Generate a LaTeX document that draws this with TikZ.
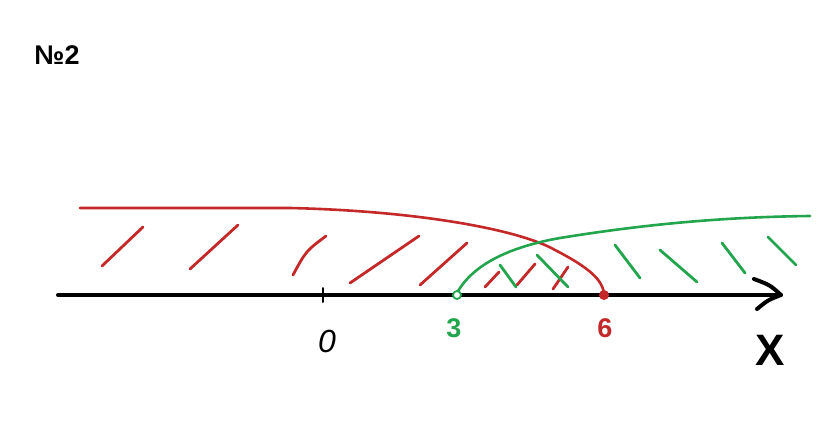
\documentclass[tikz,border=0pt]{standalone}
\usepackage{fontspec}
\setmainfont{Liberation Sans}
\definecolor{pred}{RGB}{196,40,40}
\definecolor{pgreen}{RGB}{34,165,76}
\begin{document}
\begin{tikzpicture}[x=1pt,y=-1pt,line cap=round,line join=round,
  axisline/.style={line width=4pt,black},
  redcurve/.style={line width=2.6pt,pred},
  greencurve/.style={line width=2.6pt,pgreen},
  redhatch/.style={line width=2.8pt,pred},
  greenhatch/.style={line width=2.8pt,pgreen},
  lbl/.style={inner sep=0pt,anchor=center}]
\useasboundingbox[fill=white] (0,0) rectangle (833,423);
% title
\node[lbl,font=\fontsize{27}{30}\selectfont\bfseries] (title) at (57,55) {№2};
% axis
\coordinate (axL) at (58,295);
\coordinate (axR) at (781,295);
\coordinate (arU) at (754,279);
\coordinate (arD) at (757,309);
\draw[axisline] (axL) -- (axR);
\draw[axisline] (arU) .. controls (770,285) .. (axR) .. controls (768,300) .. (arD);
% tick
\coordinate (tkU) at (323,288);
\coordinate (tkD) at (323,302);
\draw[line width=2pt] (tkU) -- (tkD);
% labels
\node[lbl,font=\fontsize{32}{36}\selectfont\itshape] (zero) at (327,341) {0};
\node[lbl,font=\fontsize{27}{30}\selectfont\bfseries,text=pgreen] (three) at (454,328) {3};
\node[lbl,font=\fontsize{27}{30}\selectfont\bfseries,text=pred] (six) at (605,328) {6};
\node[lbl,font=\fontsize{44}{48}\selectfont\bfseries] (xlab) at (770,350) {X};
% red curve
\coordinate (rS) at (80,208);
\coordinate (rE) at (604,293);
\draw[redcurve] (rS) -- (290,208) .. controls (420,211) and (520,230) .. (555,250)
  .. controls (590,268) and (602,280) .. (rE);
% green curve
\coordinate (gS) at (457,293);
\coordinate (gE) at (810,216);
\draw[greencurve] (gS) .. controls (475,260) and (520,245) .. (560,238)
  .. controls (640,225) and (720,217) .. (gE);
% red hatches
\draw[redhatch] (102,266) -- (143,227);
\draw[redhatch] (190,269) -- (238,225);
\draw[redhatch] (293,275) .. controls (306,251) .. (326,236);
\draw[redhatch] (350,283) -- (419,236);
\draw[redhatch] (420,285) -- (467,243);
\draw[redhatch] (485,287) -- (499,272);
\draw[redhatch] (517,285) -- (535,264);
\draw[redhatch] (553,289) -- (568,267);
% green hatches
\draw[greenhatch] (500,265) -- (516,287);
\draw[greenhatch] (537,255) -- (568,287);
\draw[greenhatch] (615,245) -- (640,278);
\draw[greenhatch] (660,250) -- (697,282);
\draw[greenhatch] (722,243) -- (745,273);
\draw[greenhatch] (768,237) -- (796,265);
% endpoints
\node[circle,draw=pgreen,line width=1.8pt,fill=white,minimum size=8pt,inner sep=0pt] (open3) at (457,295) {};
\node[circle,fill=pred,minimum size=10pt,inner sep=0pt] (dot6) at (604,295) {};
\end{tikzpicture}
\end{document}
